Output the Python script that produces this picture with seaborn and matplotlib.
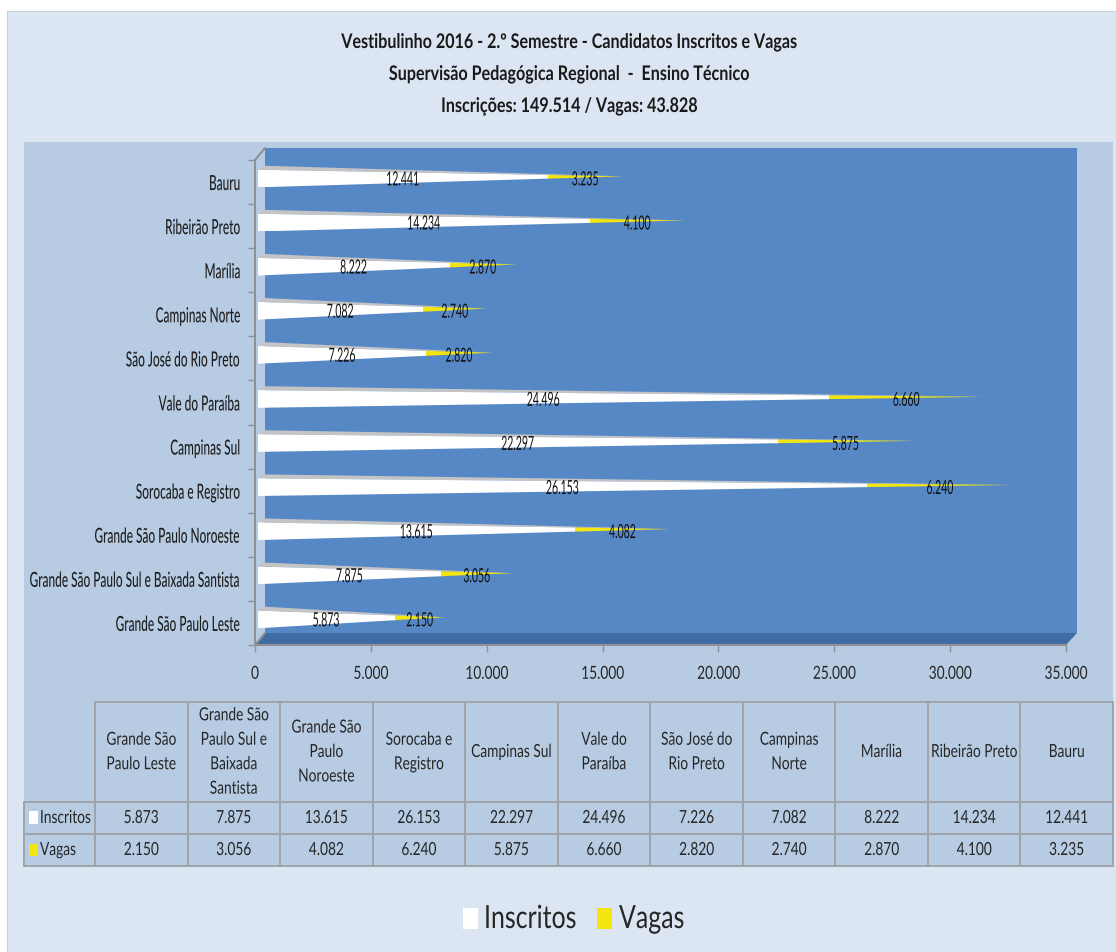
import pandas as pd
import seaborn as sns
import matplotlib
matplotlib.use("Agg")
import matplotlib.pyplot as plt
from matplotlib.patches import Polygon
from matplotlib.path import Path
from matplotlib.patheffects import AbstractPathEffect
from matplotlib.transforms import Affine2D, Bbox

regioes = ["Grande São Paulo Leste", "Grande São Paulo Sul e Baixada Santista",
           "Grande São Paulo Noroeste", "Sorocaba e Registro", "Campinas Sul",
           "Vale do Paraíba", "São José do Rio Preto", "Campinas Norte",
           "Marília", "Ribeirão Preto", "Bauru"]
cabecalho = ["Grande São\nPaulo Leste", "Grande São\nPaulo Sul e\nBaixada\nSantista",
             "Grande São\nPaulo\nNoroeste", "Sorocaba e\nRegistro", "Campinas Sul",
             "Vale do\nParaíba", "São José do\nRio Preto", "Campinas\nNorte",
             "Marília", "Ribeirão Preto", "Bauru"]
inscritos = [5873, 7875, 13615, 26153, 22297, 24496, 7226, 7082, 8222, 14234, 12441]
vagas = [2150, 3056, 4082, 6240, 5875, 6660, 2820, 2740, 2870, 4100, 3235]
ticks_x = [0, 5000, 10000, 15000, 20000, 25000, 30000, 35000]
titulo = ["Vestibulinho 2016 - 2.º Semestre - Candidatos Inscritos e Vagas",
          "Supervisão Pedagógica Regional  -  Ensino Técnico",
          "Inscrições: 149.514 / Vagas: 43.828"]

W, H = 1116, 953
COR_FUNDO = "#DCE6F2"
COR_PAINEL = "#B7CBE3"
COR_PAREDE = "#5788C6"
COR_CHAO = "#3F6DA3"
COR_EIXO = "#8E9196"
COR_TEXTO = "#262626"
BRANCO = "#FFFFFF"
AMARELO = "#F2E60E"
CORPO = ["Lato", "DejaVu Sans"]
FRACAO = {"left": 0, "center": 0.5, "right": 1}


class Estreita(AbstractPathEffect):
    # nao ha fonte condensada instalada: aperta o texto na horizontal
    def __init__(self, texto, s):
        super().__init__()
        self.texto = texto
        self.s = s

    def draw_path(self, renderer, gc, tpath, affine, rgbFace=None):
        larg = tpath.vertices[:, 0].max() if len(tpath.vertices) else 0
        desloc = FRACAO[self.texto.get_ha()] * larg * (1 - self.s)
        renderer.draw_path(gc, tpath, Affine2D().scale(self.s, 1).translate(desloc, 0) + affine, rgbFace)


def estreitar(texto, s):
    texto.set_path_effects([Estreita(texto, s)])
    original = texto.get_window_extent

    def extensao(renderer=None, dpi=None):
        b = original(renderer, dpi)
        f = FRACAO[texto.get_ha()]
        sobra = b.width * (1 - s)
        return Bbox.from_extents(b.x0 + sobra * f, b.y0, b.x1 - sobra * (1 - f), b.y1)

    texto.get_window_extent = extensao
    return texto


def ponto(x, y):
    return x / W, 1 - y / H


def caixa(x0, y0, x1, y1):
    return [x0 / W, 1 - y1 / H, (x1 - x0) / W, (y1 - y0) / H]


def milhar(v):
    return f"{v:,}".replace(",", ".")


def poligono(fig, pts, cor, zorder=-5):
    fig.add_artist(Polygon([ponto(*p) for p in pts], closed=True, facecolor=cor,
                           edgecolor="none", transform=fig.transFigure, zorder=zorder))


sns.set_theme(style="white")
plt.rcParams["font.family"] = CORPO

fig = plt.figure(figsize=(W / 100, H / 100), dpi=100, facecolor="white")

# fundo, painel e parede do grafico 3D
poligono(fig, [(7, 12), (1116, 12), (1116, 953), (7, 953)], "#C9CFD6", -9)
poligono(fig, [(8, 13), (1116, 13), (1116, 953), (8, 953)], COR_FUNDO, -8)
poligono(fig, [(24, 143), (1113, 143), (1113, 867), (24, 867)], COR_PAINEL, -7)
poligono(fig, [(265, 149), (1077, 149), (1077, 634), (265, 634)], COR_PAREDE)
poligono(fig, [(255, 646), (265, 634), (1077, 634), (1066, 646)], COR_CHAO)

for i, linha in enumerate(titulo):
    t = fig.text(569 / W, 1 - (43 + 32 * i) / H, linha, ha="center", va="center",
                 fontsize=14.5, fontweight="bold", color="#1A1A1A")
    estreitar(t, 0.8)

# eixo da frente, so com escalas e rotulos
ax = fig.add_axes(caixa(255, 161, 1066, 646), facecolor="none")
ax.set_xlim(0, 35000)
ax.set_ylim(10.5, -0.5)
ax.set_xticks(ticks_x, [milhar(t) for t in ticks_x], fontsize=13, color=COR_TEXTO)
ax.set_yticks(range(11), regioes[::-1], fontsize=15, color="#1F1F1F", fontweight="medium")
ax.set_yticks([i - 0.5 for i in range(12)], minor=True)
ax.tick_params(axis="x", length=5, width=1, color=COR_EIXO, pad=10, bottom=True)
ax.tick_params(axis="y", which="major", length=0, pad=10)
ax.tick_params(axis="y", which="minor", length=5, width=1, color=COR_EIXO, left=True)
for lab in ax.get_xticklabels():
    estreitar(lab, 0.76)
for lab in ax.get_yticklabels():
    estreitar(lab, 0.57)
for lado in ["top", "right"]:
    ax.spines[lado].set_visible(False)
for lado in ["left", "bottom"]:
    ax.spines[lado].set_color(COR_EIXO)
    ax.spines[lado].set_linewidth(1.5)
fig.add_artist(plt.Line2D([255 / W, 265 / W], [1 - 161 / H, 1 - 149 / H], color=COR_EIXO,
                          lw=1.5, zorder=-4))
fig.add_artist(plt.Line2D([255 / W, 265 / W], [1 - 646 / H, 1 - 634 / H], color=COR_EIXO,
                          lw=1.5, zorder=-4))

# cones: barras do seaborn recortadas em triangulo, escala da projecao 3D
df = pd.DataFrame({"regiao": regioes, "inscritos": inscritos, "vagas": vagas})
df["total"] = df.inscritos + df.vagas
ordem = regioes[::-1]
df_ordem = df.set_index("regiao").loc[ordem].reset_index()

ax_barras = fig.add_axes(caixa(258, 157.5, 258 + 35000 * 0.0233, 642.5), facecolor="none")
sns.barplot(data=df, y="regiao", x="total", order=ordem, color=AMARELO, saturation=1,
            width=0.4, linewidth=0, orient="h", ax=ax_barras)
sns.barplot(data=df, y="regiao", x="inscritos", order=ordem, color=BRANCO, saturation=1,
            width=0.4, linewidth=0, orient="h", ax=ax_barras)
ax_barras.set_xlim(0, 35000)
ax_barras.set_ylim(10.5, -0.5)
ax_barras.axis("off")
barras_total, barras_insc = ax_barras.containers[0], ax_barras.containers[1]

meia = 0.2
for i, lin in df_ordem.iterrows():
    ponta = (lin.total, i - 0.05)
    ax_barras.add_patch(Polygon([(0, i - meia), (300, i - meia - 0.09), ponta], closed=True,
                                facecolor="#C4C4C4", edgecolor="none", zorder=0.5))
    triangulo = Path([(0, i - meia), (0, i + meia), ponta, (0, i - meia)], closed=True)
    # o trecho amarelo comeca um pouco antes do fim do branco, por baixo dele
    barras_total[i].set_x(lin.inscritos - 60)
    barras_total[i].set_width(lin.vagas + 60)
    barras_total[i].set_zorder(1)
    barras_insc[i].set_zorder(1.5)
    for barra in (barras_total[i], barras_insc[i]):
        barra.set_clip_path(triangulo, ax_barras.transData)
    for centro, valor in ((lin.inscritos / 2, lin.inscritos), (lin.inscritos + lin.vagas / 2, lin.vagas)):
        t = ax_barras.text(centro, i + 0.03, milhar(valor), ha="center", va="center",
                           fontsize=14, color="#111111", zorder=3)
        estreitar(t, 0.54)

# tabela de dados
ax_tab = fig.add_axes(caixa(24, 703, 1113, 867), facecolor="none")
ax_tab.axis("off")
celulas = [[""] + cabecalho,
           ["Inscritos"] + [milhar(v) for v in inscritos],
           ["Vagas"] + [milhar(v) for v in vagas]]
larg_col = [71 / 1089] + [1018 / 11 / 1089] * 11
tab = ax_tab.table(cellText=celulas, colWidths=larg_col, cellLoc="center", bbox=[0, 0, 1, 1])
tab.auto_set_font_size(False)
alturas = [100 / 164, 32 / 164, 32 / 164]
for (r, c), cel in tab.get_celld().items():
    cel.set_height(alturas[r])
    cel.set_facecolor("none")
    cel.set_edgecolor("#A0A4AA")
    cel.set_linewidth(1.4)
    cel.get_text().set_fontsize(13)
    cel.get_text().set_color(COR_TEXTO)
    cel.get_text().set_linespacing(1.65)
    if c == 0:
        cel.set_text_props(ha="left")
        cel._loc = "left"
        cel.PAD = 0.225
    estreitar(cel.get_text(), 0.76)
tab[(0, 0)].visible_edges = "BR"

poligono(fig, [(29, 812), (38, 812), (38, 825), (29, 825)], BRANCO, 5)
poligono(fig, [(29, 845), (38, 845), (38, 857), (29, 857)], AMARELO, 5)

# legenda de baixo
for x_q, x_t, nome, cor in ((463, 484, "Inscritos", BRANCO), (597, 619, "Vagas", AMARELO)):
    poligono(fig, [(x_q, 909), (x_q + 15, 909), (x_q + 15, 930), (x_q, 930)], cor, 5)
    t = fig.text(x_t / W, 1 - 920 / H, nome, ha="left", va="center", fontsize=23, color=COR_TEXTO)
    estreitar(t, 0.78)

fig.savefig("out.png", dpi=100)
